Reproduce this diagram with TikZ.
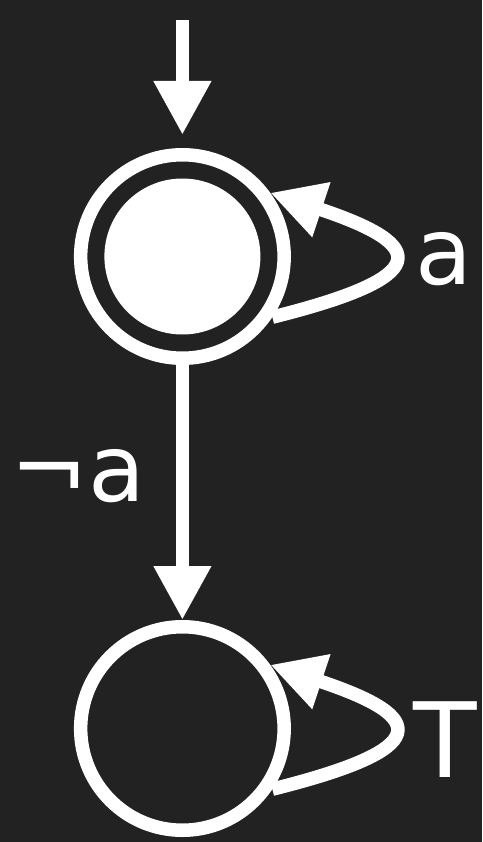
\documentclass[tikz,border=0pt]{standalone}
\usepackage{fontspec}
\setmainfont{DejaVu Sans}
\usetikzlibrary{arrows.meta}
\definecolor{bg}{HTML}{222222}
\begin{document}
\begin{tikzpicture}[x=1pt,y=-1pt,
  statenode/.style={circle, draw=white, line width=13.5pt, minimum size=203.5pt, inner sep=0pt},
  arr/.style={draw=white, line width=13.5pt, -{Triangle[length=54pt,width=54pt]}},
  lbl/.style={text=white, inner sep=0pt, anchor=base, font=\fontsize{93pt}{93pt}\selectfont}]
\fill[bg] (0,0) rectangle (482,842);
\node[statenode] (s1) at (182.4,256.5) {};
\fill[white] (s1.center) circle[radius=78pt];
\node[statenode] (s2) at (182.4,728.5) {};
\coordinate (init) at (182.4,20);
\draw[arr, shorten >=13pt] (init) -- (s1);
\draw[arr] (s1) -- (s2);
\draw[arr] (s1.-34) .. controls +(160,-40) and +(160,53) .. (s1.36);
\draw[arr] (s2.-34) .. controls +(160,-40) and +(160,53) .. (s2.36);
\node[lbl] (la) at (444,284) {a};
\node[lbl] (lna) at (78,501) {¬a};
\node[lbl, font=\fontsize{104pt}{104pt}\selectfont] (lt) at (445.5,777) {T};
\end{tikzpicture}
\end{document}
